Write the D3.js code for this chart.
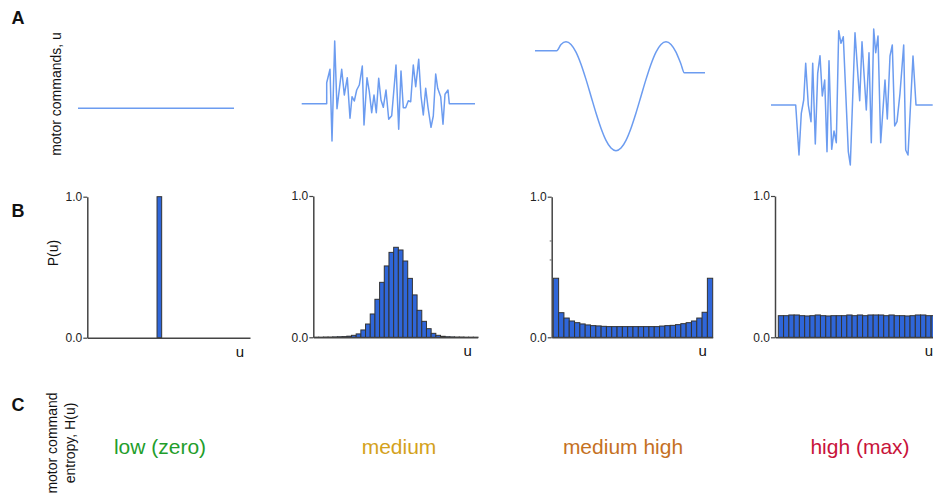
<!DOCTYPE html>
<html>
<head>
<meta charset="utf-8">
<script src="https://cdn.jsdelivr.net/npm/d3@7"></script>
<style>
  html, body { margin: 0; padding: 0; background: #fff; }
  svg { display: block; font-family: "Liberation Sans", Arial, Helvetica, sans-serif; }
</style>
</head>
<body>
<svg id="chart" width="933" height="500"></svg>
<script>
// ---- motor command traces (time t, command u) ----
const lowT = [0, 156];
const lowU = [-0.166, -0.166];

const mediumT = [0, 25.0, 25.0, 28.3, 30.3, 33.0, 35.3, 40.0, 42.6, 45.6, 48.3, 50.3, 52.6, 55.0, 57.6, 60.6,
  62.3, 65.3, 67.6, 70.0, 72.3, 74.6, 77.0, 79.3, 81.6, 84.3, 87.0, 90.0, 94.3, 97.0, 99.3, 101.6, 104.0,
  106.6, 109.0, 111.6, 114.0, 117.0, 119.3, 121.6, 124.0, 126.3, 129.3, 131.6, 134.0, 136.0, 139.0, 141.3,
  143.3, 146.3, 147.6, 173.3];
const mediumU = [-0.074, -0.074, 0.346, 0.614, -0.82, 1.18, -0.174, 0.614, 0.10, 0.446, -0.366, 0.066, -0.02,
  0.2, 0.3, 0.68, -0.5, 0.446, 0.166, -0.254, 0.1, -0.254, 0.434, 0, -0.146, 0.2, -0.386, -0.314, 0.7, -0.586,
  0.58, -0.154, -0.154, -0.014, -0.034, 0.7, 0.266, 0.814, 0.08, -0.3, 0.234, -0.146, -0.546, -0.32, 0.52,
  0.234, 0.066, -0.486, 0.114, 0.2, -0.074, -0.074];

const medHighT = [0, 21.7, 26, 31, 36, 41, 46, 51, 56, 61, 66, 71, 76, 81, 86, 91, 96, 101, 106, 111, 116,
  121, 126, 131, 136, 141, 146, 149.3, 170];
const medHighU = [0.986, 0.986, 1.112, 1.166, 1.112, 0.958, 0.716, 0.412, 0.076, -0.26, -0.564, -0.806, -0.96,
  -1.014, -0.96, -0.806, -0.564, -0.26, 0.076, 0.412, 0.716, 0.958, 1.112, 1.166, 1.112, 0.958, 0.716, 0.546, 0.546];

const highT = [0, 24.7, 28.0, 30.3, 32.7, 34.7, 37.3, 40.0, 41.7, 44.3, 46.7, 49.0, 51.3, 53.7, 56.0, 58.0,
  60.7, 63.0, 65.3, 67.7, 70.0, 72.3, 77.3, 79.3, 84.0, 88.7, 91.0, 95.3, 98.0, 100.3, 102.7, 104.7, 107.0,
  109.7, 114.0, 116.3, 119.0, 121.3, 123.7, 126.0, 129.0, 132.7, 134.7, 137.0, 142.0, 145.0, 161.7];
const highU = [-0.1, -0.1, -1.1, -0.266, 0, 0.734, -0.1, -0.434, 0.734, -0.88, 0.534, 0.886, 0.08, 0.4, -1.034,
  0.786, -0.986, -0.62, -0.854, 1.386, 1.134, 1.266, -1.034, -1.3, 1.346, -0.014, 1.166, -0.2, 0.946, -0.854,
  1.42, 0.946, 1.28, -0.854, 0.4, -0.38, 0.88, 1.1, -0.52, -0.434, 0.134, 1.1, -1.0, -1.1, 0.88, -0.1, -0.1];

// ---- command distributions P(u), one value per bin ----
const lowP = [0, 0, 0, 0, 0, 0, 0, 0, 0, 0, 0, 0, 0, 0, 0, 1.0, 0, 0, 0, 0, 0, 0, 0, 0, 0, 0, 0, 0, 0, 0, 0, 0, 0, 0, 0];
const mediumP = [0.001, 0.001, 0.002, 0.002, 0.003, 0.004, 0.005, 0.008, 0.014, 0.024, 0.052, 0.094, 0.165,
  0.269, 0.389, 0.505, 0.601, 0.637, 0.618, 0.54, 0.417, 0.30, 0.191, 0.113, 0.061, 0.028, 0.014, 0.007,
  0.004, 0.003, 0.002, 0.002, 0.001, 0.001, 0.001];
const medHighP = [0.42, 0.175, 0.137, 0.116, 0.104, 0.095, 0.088, 0.083, 0.081, 0.078, 0.076, 0.076, 0.076,
  0.076, 0.076, 0.076, 0.076, 0.076, 0.076, 0.076, 0.080, 0.083, 0.085, 0.090, 0.097, 0.104, 0.116, 0.137,
  0.178, 0.42];
const highP = [0.153, 0.153, 0.158, 0.158, 0.153, 0.151, 0.153, 0.158, 0.153, 0.151, 0.153, 0.153, 0.153,
  0.158, 0.153, 0.158, 0.153, 0.158, 0.158, 0.158, 0.153, 0.158, 0.153, 0.153, 0.151, 0.153, 0.158, 0.158,
  0.153, 0.153];

const pTicks = [0, 1];
const entropyLabels = ["low (zero)", "medium", "medium high", "high (max)"];
const entropyColors = ["#1f9e2c", "#d4a21c", "#c5711f", "#c8133a"];

// ---- layout ----
const svg = d3.select("#chart");
const lineColor = "#6c9cf0";
const barFill = "#2f66d9";
const axisColor = "#444";

const aPanels = [
  { t: lowT, u: lowU, x0: 78, x1: 234 },
  { t: mediumT, u: mediumU, x0: 301.7, x1: 475 },
  { t: medHighT, u: medHighU, x0: 535, x1: 705, smooth: true },
  { t: highT, u: highT.map((_, i) => highU[i]), x0: 771, x1: 932.7 }
];

const yA = d3.scaleLinear().domain([-1.5, 1.5]).range([175, 25]);

aPanels.forEach(p => {
  const x = d3.scaleLinear().domain([0, d3.max(p.t)]).range([p.x0, p.x1]);
  const line = d3.line()
    .x((d, i) => x(p.t[i]))
    .y(d => yA(d))
    .curve(p.smooth ? d3.curveMonotoneX : d3.curveLinear);
  svg.append("path")
    .attr("d", line(p.u))
    .attr("fill", "none")
    .attr("stroke", lineColor)
    .attr("stroke-width", 1.5)
    .attr("stroke-linejoin", "round");
});

// ---- histograms ----
const bPanels = [
  { p: lowP, ax0: 87.3, ax1: 250, b0: 87.3, b1: 250, top: 196.7, bottom: 337.7 },
  { p: mediumP, ax0: 313.3, ax1: 477.7, b0: 314, b1: 478, top: 196, bottom: 337.3 },
  { p: medHighP, ax0: 551.7, ax1: 712.7, b0: 553.3, b1: 712.7, top: 196.7, bottom: 337.3, stray: [0.55, 0.685] },
  { p: highP, ax0: 775, ax1: 945, b0: 778.3, b1: 936.4, top: 196, bottom: 337.3 }
];

bPanels.forEach(bp => {
  const y = d3.scaleLinear().domain([0, 1]).range([bp.bottom, bp.top]);
  const x = d3.scaleBand().domain(d3.range(bp.p.length)).range([bp.b0, bp.b1]).padding(0);
  const g = svg.append("g");

  g.selectAll("rect")
    .data(bp.p)
    .join("rect")
    .attr("x", (d, i) => x(i))
    .attr("y", d => y(d))
    .attr("width", x.bandwidth())
    .attr("height", d => y(0) - y(d))
    .attr("fill", barFill)
    .attr("stroke", "#333")
    .attr("stroke-width", 1);

  const yAxis = g.append("g")
    .attr("transform", `translate(${bp.ax0},0)`)
    .call(d3.axisLeft(y).tickValues(pTicks).tickFormat(d3.format(".1f")).tickSize(4).tickSizeOuter(0));
  yAxis.select(".domain").attr("stroke", axisColor).attr("stroke-width", 1.5);
  yAxis.selectAll(".tick line").attr("stroke", axisColor).attr("stroke-width", 1.2);
  yAxis.selectAll(".tick text")
    .attr("font-size", 12)
    .attr("fill", "#222")
    .attr("x", -5)
    .attr("font-family", "Liberation Sans, Arial, sans-serif");

  if (bp.stray) {
    g.selectAll(".stray")
      .data(bp.stray)
      .join("line")
      .attr("x1", bp.ax0 - 2).attr("x2", bp.ax0)
      .attr("y1", d => y(d)).attr("y2", d => y(d))
      .attr("stroke", "#666").attr("stroke-width", 1);
  }

  const xAxis = g.append("g")
    .attr("transform", `translate(0,${bp.bottom})`)
    .call(d3.axisBottom(d3.scaleLinear().range([bp.ax0, bp.ax1])).tickValues([]).tickSizeOuter(0));
  xAxis.select(".domain").attr("stroke", axisColor).attr("stroke-width", 1.5);

  g.append("text")
    .attr("x", Math.min(bp.ax1, 945) - (bp.ax1 > 933 ? 16 : 10))
    .attr("y", bp.bottom + 19)
    .attr("text-anchor", "middle")
    .attr("font-size", 15)
    .attr("fill", "#111")
    .text("u");
});

// ---- row letters and axis titles ----
const letters = [["A", 18, 24], ["B", 18, 217], ["C", 18, 411]];
svg.selectAll(".letter")
  .data(letters)
  .join("text")
  .attr("x", d => d[1]).attr("y", d => d[2])
  .attr("text-anchor", "middle")
  .attr("font-size", 18).attr("font-weight", "bold").attr("fill", "#111")
  .text(d => d[0]);

function vText(x, y, txt, size) {
  svg.append("text")
    .attr("transform", `translate(${x},${y}) rotate(-90)`)
    .attr("text-anchor", "middle")
    .attr("font-size", size)
    .attr("fill", "#111")
    .text(txt);
}
vText(61, 94, "motor commands, u", 14);
vText(58, 253, "P(u)", 14);
vText(57, 443, "motor command", 14);
vText(75, 443, "entropy, H(u)", 14);

// ---- entropy labels ----
const labelX = [160, 399, 623, 860];
svg.selectAll(".entropy")
  .data(entropyLabels)
  .join("text")
  .attr("x", (d, i) => labelX[i])
  .attr("y", 454)
  .attr("text-anchor", "middle")
  .attr("font-size", 21)
  .attr("fill", (d, i) => entropyColors[i])
  .text(d => d);
</script>
</body>
</html>
